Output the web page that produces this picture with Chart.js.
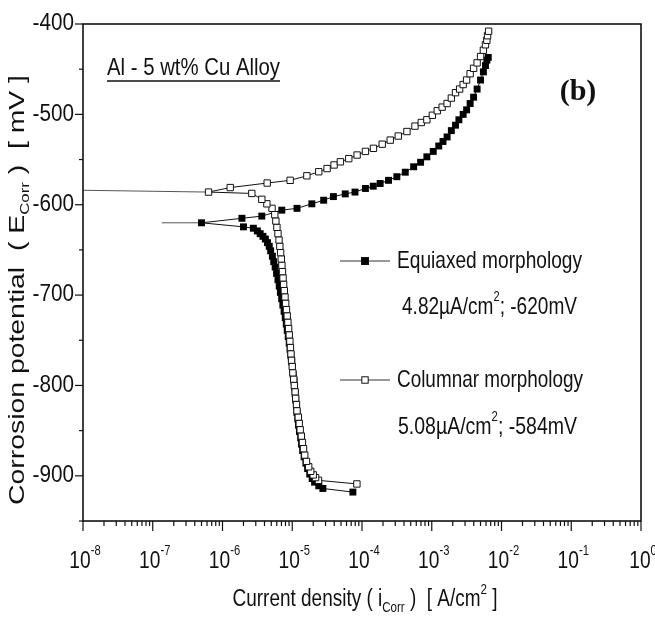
<!DOCTYPE html>
<html>
<head>
<meta charset="utf-8">
<script src="https://cdn.jsdelivr.net/npm/chart.js@4.4.1/dist/chart.umd.min.js"></script>
<style>
  html, body { margin: 0; padding: 0; background: #fff; }
  canvas { display: block; }
</style>
</head>
<body>
<canvas id="chart" width="655" height="618"></canvas>
<script>
// ---- data (A/cm2, mV) ----
// sweep order: cathodic end -> Ecorr -> anodic end
const equiaxedCurrent = [
  7.4e-5, 2.75e-5, 2.40e-5, 2.09e-5, 1.93e-5, 1.78e-5, 1.66e-5, 1.57e-5, 1.48e-5, 1.41e-5,
  1.36e-5, 1.32e-5, 1.27e-5, 1.23e-5, 1.20e-5, 1.17e-5, 1.15e-5, 1.12e-5, 1.10e-5, 1.08e-5,
  1.06e-5, 1.03e-5, 1.01e-5, 9.82e-6, 9.55e-6, 9.31e-6, 9.04e-6, 8.75e-6, 8.47e-6, 8.20e-6,
  7.94e-6, 7.64e-6, 7.33e-6, 7.05e-6, 6.76e-6, 6.50e-6, 6.24e-6, 5.96e-6, 5.69e-6, 5.43e-6,
  5.19e-6, 4.90e-6, 4.68e-6, 4.42e-6, 4.12e-6, 3.80e-6, 3.47e-6, 3.16e-6, 2.77e-6, 2.0e-6,
  5.0e-7, 1.9e-6, 3.66e-6, 7.08e-6, 1.17e-5, 1.91e-5, 2.82e-5, 3.89e-5, 5.75e-5, 7.94e-5,
  1.12e-4, 1.45e-4, 1.82e-4, 2.40e-4, 3.16e-4, 4.17e-4, 5.50e-4, 6.92e-4, 8.51e-4, 1.05e-3,
  1.26e-3, 1.45e-3, 1.66e-3, 1.91e-3, 2.19e-3, 2.45e-3, 2.82e-3, 3.16e-3, 3.55e-3, 3.98e-3,
  4.47e-3, 5.01e-3, 5.50e-3, 5.89e-3, 6.17e-3, 6.46e-3
];
const equiaxedPotential = [
  -918, -914, -911, -907, -903, -898, -892, -886, -879, -872,
  -865, -858, -851, -844, -837, -830, -823, -816, -809, -802,
  -795, -788, -781, -774, -767, -760, -753, -746, -739, -732,
  -725, -718, -711, -704, -697, -690, -683, -676, -669, -663,
  -657, -651, -646, -642, -638, -635, -632, -629, -626, -624.5,
  -620, -615, -612.6, -606, -604, -599, -595, -591, -588, -586,
  -582, -579.5, -576.5, -573, -569, -564, -558, -553, -547, -541,
  -535, -530, -525, -518, -512, -506, -500, -495, -488, -481,
  -472, -462, -453, -446, -440, -437
];

const columnarCurrent = [
  8.45e-5, 2.38e-5, 2.16e-5, 2.0e-5, 1.84e-5, 1.72e-5, 1.60e-5, 1.51e-5, 1.45e-5, 1.40e-5,
  1.35e-5, 1.30e-5, 1.26e-5, 1.22e-5, 1.17e-5, 1.15e-5, 1.12e-5, 1.10e-5, 1.07e-5, 1.05e-5,
  1.02e-5, 1.0e-5, 9.77e-6, 9.59e-6, 9.42e-6, 9.25e-6, 9.06e-6, 8.87e-6, 8.67e-6, 8.47e-6,
  8.26e-6, 8.05e-6, 7.87e-6, 7.69e-6, 7.52e-6, 7.38e-6, 7.24e-6, 7.11e-6, 6.97e-6, 6.81e-6,
  6.64e-6, 6.46e-6, 6.24e-6, 6.03e-6, 5.82e-6, 5.62e-6, 5.13e-6, 4.33e-6, 3.66e-6, 2.63e-6,
  6.31e-7, 1.29e-6, 4.37e-6, 9.33e-6, 1.62e-5, 2.40e-5, 3.16e-5, 3.98e-5, 4.90e-5, 6.46e-5,
  8.51e-5, 1.12e-4, 1.46e-4, 1.95e-4, 2.54e-4, 3.31e-4, 4.41e-4, 5.75e-4, 7.08e-4, 8.51e-4,
  1.02e-3, 1.20e-3, 1.41e-3, 1.66e-3, 1.91e-3, 2.19e-3, 2.51e-3, 2.82e-3, 3.16e-3, 3.55e-3,
  3.98e-3, 4.47e-3, 5.01e-3, 5.50e-3, 5.89e-3, 6.17e-3, 6.31e-3, 6.53e-3
];
const columnarPotential = [
  -909, -905, -902, -899, -895, -890, -884, -877, -870, -863,
  -856, -849, -842, -835, -828, -821, -814, -807, -800, -793,
  -786, -779, -772, -765, -758, -751, -744, -737, -730, -723,
  -716, -709, -702, -695, -688, -681, -674, -667, -660, -653,
  -646, -639, -632, -625, -618, -611, -604, -599, -594, -587.5,
  -586, -581, -576, -573, -568, -563.5, -560, -556, -552.5, -549,
  -545, -541, -537.6, -533, -528.5, -524, -519, -513, -509, -506,
  -501, -496, -492, -488, -482, -476, -472, -467, -462, -455,
  -449, -443, -436, -429, -423, -418, -413, -408
];

// thin line where each sweep runs out to very low current near Ecorr
const equiaxedTipCurrent = [1.35e-7, 5.0e-7];
const equiaxedTipPotential = [-620, -620];
const columnarTipCurrent = [1e-8, 6.31e-7];
const columnarTipPotential = [-584, -586];

const seriesNames = ['Equiaxed morphology', 'Columnar morphology'];
const seriesNotes = ['4.82\u00b5A/cm^2; -620mV', '5.08\u00b5A/cm^2; -584mV'];
const alloyLabel = 'Al - 5 wt% Cu Alloy';
const panelLabel = '(b)';
const xTitle = 'Current density ( i_{Corr} )  [ A/cm^2 ]';
const yTitle = 'Corrosion potential  ( E_{Corr} )  [ mV ]';
const xDecades = [-8, -7, -6, -5, -4, -3, -2, -1, 0];
const yTicks = [-900, -800, -700, -600, -500, -400];
const yMin = -950, yMax = -400;

const toPoints = (xs, ys) => xs.map((x, i) => ({ x: x, y: ys[i] }));

const INK = '#111';
const FONT = '"Liberation Sans", Arial, sans-serif';

// text with ^x / ^{..} superscripts and _{..} subscripts, squeezed horizontally
function parseRich(str) {
  const out = [];
  const re = /\^\{([^}]*)\}|_\{([^}]*)\}|\^(.)|_(.)/g;
  let last = 0, m;
  while ((m = re.exec(str))) {
    if (m.index > last) out.push({ t: str.slice(last, m.index), k: 'n' });
    if (m[1] !== undefined || m[3] !== undefined) out.push({ t: m[1] !== undefined ? m[1] : m[3], k: 'sup' });
    else out.push({ t: m[2] !== undefined ? m[2] : m[4], k: 'sub' });
    last = re.lastIndex;
  }
  if (last < str.length) out.push({ t: str.slice(last), k: 'n' });
  return out;
}

function drawRich(ctx, str, x, y, o) {
  const size = o.size || 22;
  const weight = o.weight || 'normal';
  const family = o.family || FONT;
  const parts = parseRich(str);
  let natural = 0;
  parts.forEach(p => {
    p.size = p.k === 'n' ? size : Math.round(size * 0.6);
    ctx.font = weight + ' ' + p.size + 'px ' + family;
    p.w = ctx.measureText(p.t).width;
    natural += p.w;
  });
  const sx = o.width ? o.width / natural : (o.squeeze || 1);
  const total = natural * sx;
  let x0 = x;
  if (o.align === 'center') x0 = x - total / 2;
  else if (o.align === 'right') x0 = x - total;
  ctx.save();
  ctx.translate(x0, y);
  ctx.scale(sx, 1);
  ctx.fillStyle = o.color || INK;
  ctx.textBaseline = 'middle';
  ctx.textAlign = 'left';
  let cx = 0;
  parts.forEach(p => {
    ctx.font = weight + ' ' + p.size + 'px ' + family;
    let dy = 0;
    if (p.k === 'sup') dy = -size * 0.42;
    if (p.k === 'sub') dy = size * 0.34;
    ctx.fillText(p.t, cx, dy);
    cx += p.w;
  });
  ctx.restore();
  return { left: x0, right: x0 + total };
}

function drawMarker(ctx, x, y, half, filled) {
  ctx.save();
  ctx.fillStyle = filled ? '#000' : '#fff';
  ctx.strokeStyle = '#111';
  ctx.lineWidth = 1;
  ctx.fillRect(x - half, y - half, half * 2, half * 2);
  ctx.strokeRect(x - half, y - half, half * 2, half * 2);
  ctx.restore();
}

const decorPlugin = {
  id: 'decor',
  afterDraw(chart) {
    const { ctx, chartArea: a, scales: { x, y } } = chart;
    ctx.save();

    // frame
    ctx.strokeStyle = '#111';
    ctx.lineWidth = 1.6;
    ctx.strokeRect(a.left, a.top, a.right - a.left, a.bottom - a.top);

    // y ticks (outward), major every 100, minor every 50
    ctx.lineWidth = 1.2;
    for (let v = yMin; v <= yMax; v += 50) {
      const py = y.getPixelForValue(v);
      const len = v % 100 === 0 ? 8 : 4;
      ctx.beginPath();
      ctx.moveTo(a.left - len, py);
      ctx.lineTo(a.left, py);
      ctx.stroke();
    }
    yTicks.forEach(v => {
      drawRich(ctx, String(v), a.left - 9, y.getPixelForValue(v), { size: 23, align: 'right', squeeze: 0.9 });
    });

    // x ticks (outward), decades + 2..9 minors
    xDecades.forEach(d => {
      const px = x.getPixelForValue(Math.pow(10, d));
      ctx.beginPath();
      ctx.moveTo(px, a.bottom);
      ctx.lineTo(px, a.bottom + 10);
      ctx.stroke();
      if (d < 0) {
        for (let k = 2; k <= 9; k++) {
          const mx = x.getPixelForValue(k * Math.pow(10, d));
          ctx.beginPath();
          ctx.moveTo(mx, a.bottom);
          ctx.lineTo(mx, a.bottom + 5);
          ctx.stroke();
        }
      }
      drawRich(ctx, '10^{' + d + '}', px + 2, a.bottom + 40, { size: 24, align: 'center', squeeze: 0.8 });
    });

    // axis titles
    drawRich(ctx, xTitle, 365, 600, { size: 23, align: 'center', width: 265 });
    ctx.save();
    ctx.translate(18, 290);
    ctx.rotate(-Math.PI / 2);
    drawRich(ctx, yTitle, 0, 0, { size: 22, align: 'center', width: 430 });
    ctx.restore();

    // alloy label, underlined
    const lab = drawRich(ctx, alloyLabel, 107, 68, { size: 24, width: 173 });
    ctx.strokeStyle = INK;
    ctx.lineWidth = 1.3;
    ctx.beginPath();
    ctx.moveTo(lab.left, 81);
    ctx.lineTo(lab.right, 81);
    ctx.stroke();

    // panel tag
    drawRich(ctx, panelLabel, 578, 92, { size: 30, weight: 'bold', family: '"Liberation Serif", "Times New Roman", serif', align: 'center' });

    // legend
    const rows = [
      { y: 261, noteY: 307, filled: true, nameW: 185, noteX: 402, noteW: 175 },
      { y: 380, noteY: 427, filled: false, nameW: 186, noteX: 398, noteW: 179 }
    ];
    rows.forEach((r, i) => {
      ctx.strokeStyle = '#333';
      ctx.lineWidth = 1;
      ctx.beginPath();
      ctx.moveTo(340, r.y);
      ctx.lineTo(390, r.y);
      ctx.stroke();
      drawMarker(ctx, 365, r.y, r.filled ? 3.5 : 3.2, r.filled);
      drawRich(ctx, seriesNames[i], 397, r.y, { size: 24, width: r.nameW });
      drawRich(ctx, seriesNotes[i], r.noteX, r.noteY, { size: 24, width: r.noteW });
    });

    ctx.restore();
  }
};

new Chart(document.getElementById('chart').getContext('2d'), {
  type: 'scatter',
  data: {
    datasets: [
      {
        label: seriesNames[1],
        data: toPoints(columnarCurrent, columnarPotential),
        showLine: true,
        borderColor: '#111',
        borderWidth: 1,
        pointStyle: 'rect',
        pointRadius: 4.5,
        pointBackgroundColor: '#fff',
        pointBorderColor: '#111',
        pointBorderWidth: 1,
        order: 0
      },
      {
        label: 'columnar tip',
        data: toPoints(columnarTipCurrent, columnarTipPotential),
        showLine: true,
        borderColor: '#555',
        borderWidth: 1,
        pointRadius: 0,
        order: 2
      },
      {
        label: seriesNames[0],
        data: toPoints(equiaxedCurrent, equiaxedPotential),
        showLine: true,
        borderColor: '#111',
        borderWidth: 1,
        pointStyle: 'rect',
        pointRadius: 4.9,
        pointBackgroundColor: '#000',
        pointBorderColor: '#000',
        pointBorderWidth: 0,
        order: 1
      },
      {
        label: 'equiaxed tip',
        data: toPoints(equiaxedTipCurrent, equiaxedTipPotential),
        showLine: true,
        borderColor: '#555',
        borderWidth: 1,
        pointRadius: 0,
        order: 3
      }
    ]
  },
  options: {
    responsive: false,
    animation: false,
    layout: { padding: { top: 24, right: 14, left: 0, bottom: 0 } },
    plugins: {
      legend: { display: false },
      tooltip: { enabled: false }
    },
    scales: {
      x: {
        type: 'logarithmic',
        min: 1e-8,
        max: 1,
        grid: { display: false },
        border: { display: false },
        ticks: { display: false },
        afterFit(scale) { scale.height = 97; }
      },
      y: {
        min: yMin,
        max: yMax,
        grid: { display: false },
        border: { display: false },
        ticks: { display: false },
        afterFit(scale) { scale.width = 83; }
      }
    }
  },
  plugins: [decorPlugin]
});
</script>
</body>
</html>
